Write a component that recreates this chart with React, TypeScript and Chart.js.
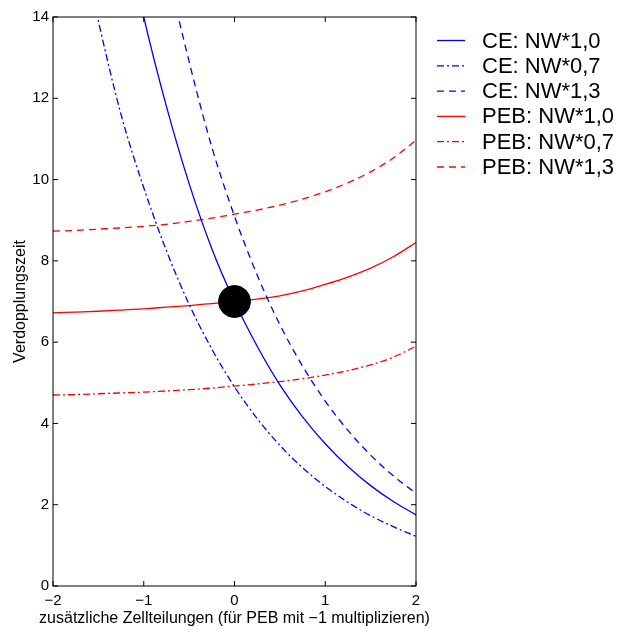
import React, { useEffect, useRef } from "react";
import { Chart, registerables } from "chart.js";

Chart.register(...registerables);

const FONT = "'Liberation Sans', Arial, Helvetica, sans-serif";

// x positions (additional cell divisions)
const xValues = [-2, -1.75, -1.5, -1.25, -1, -0.75, -0.5, -0.25, 0, 0.25, 0.5, 0.75, 1, 1.25, 1.5, 1.75, 2];

// doubling times
const ceNW10 = [28, 23.5, 19.8, 16.6, 14.0, 11.8, 9.9, 8.3, 7.0, 5.9, 4.95, 4.16, 3.5, 2.94, 2.47, 2.08, 1.75];
const ceNW07 = [19.6, 16.5, 13.9, 11.6, 9.8, 8.25, 6.93, 5.83, 4.9, 4.12, 3.46, 2.91, 2.45, 2.06, 1.73, 1.46, 1.22];
const ceNW13 = [36.4, 30.6, 25.7, 21.6, 18.2, 15.3, 12.9, 10.8, 9.1, 7.65, 6.43, 5.41, 4.55, 3.83, 3.22, 2.71, 2.28];
const pebNW10 = [6.72, 6.74, 6.76, 6.79, 6.82, 6.86, 6.9, 6.95, 7.0, 7.06, 7.14, 7.26, 7.42, 7.6, 7.82, 8.1, 8.45];
const pebNW07 = [4.7, 4.71, 4.73, 4.75, 4.77, 4.8, 4.83, 4.87, 4.92, 4.97, 5.03, 5.1, 5.19, 5.3, 5.44, 5.63, 5.9];
const pebNW13 = [8.73, 8.75, 8.78, 8.81, 8.85, 8.9, 8.97, 9.05, 9.15, 9.25, 9.37, 9.52, 9.7, 9.92, 10.19, 10.53, 10.97];

const markerPoint = { x: 0, y: 7 };

const seriesLabels = ["CE: NW*1,0", "CE: NW*0,7", "CE: NW*1,3", "PEB: NW*1,0", "PEB: NW*0,7", "PEB: NW*1,3"];
const xTicks = [-2, -1, 0, 1, 2];
const yTicks = [0, 2, 4, 6, 8, 10, 12, 14];

const xTitle = "zusätzliche Zellteilungen (für PEB mit \u22121 multiplizieren)";
const yTitle = "Verdopplungszeit";

const BLUE = "#0000ff";
const RED = "#ff0000";
const SOLID: number[] = [];
const DASHDOT = [7, 3, 2, 3];
const DASHED = [7, 5];

const fmt = (v: number) => (v < 0 ? "\u2212" + Math.abs(v) : String(v));

export default function App() {
  const ref = useRef<HTMLCanvasElement | null>(null);

  useEffect(() => {
    const canvas = ref.current;
    if (!canvas) return;

    const mk = (vals: number[]) => vals.map((y, i) => ({ x: xValues[i], y }));
    const seriesData = [ceNW10, ceNW07, ceNW13, pebNW10, pebNW07, pebNW13];
    const colors = [BLUE, BLUE, BLUE, RED, RED, RED];
    const dashes = [SOLID, DASHDOT, DASHED, SOLID, DASHDOT, DASHED];

    const lineSets = seriesData.map((vals, i) => ({
      type: "line" as const,
      label: seriesLabels[i],
      data: mk(vals),
      borderColor: colors[i],
      backgroundColor: colors[i],
      borderWidth: 1.3,
      borderDash: dashes[i],
      pointRadius: 0,
      cubicInterpolationMode: "monotone" as const,
      fill: false,
      order: 1,
    }));

    const boxPlugin = {
      id: "matlabBox",
      afterDraw(chart: any) {
        const { ctx, chartArea } = chart;
        const { left, right, top, bottom } = chartArea;
        const xs = chart.scales.x;
        const ys = chart.scales.y;
        ctx.save();
        ctx.strokeStyle = "#000";
        ctx.lineWidth = 1;
        ctx.setLineDash([]);
        ctx.strokeRect(left, top, right - left, bottom - top);
        const tl = 5;
        ctx.beginPath();
        xTicks.forEach((v) => {
          const px = xs.getPixelForValue(v);
          ctx.moveTo(px, bottom);
          ctx.lineTo(px, bottom - tl);
          ctx.moveTo(px, top);
          ctx.lineTo(px, top + tl);
        });
        yTicks.forEach((v) => {
          const py = ys.getPixelForValue(v);
          ctx.moveTo(left, py);
          ctx.lineTo(left + tl, py);
          ctx.moveTo(right, py);
          ctx.lineTo(right - tl, py);
        });
        ctx.stroke();

        // x axis title (may be wider than the plot, so drawn unconstrained)
        ctx.fillStyle = "#000";
        ctx.font = "16px " + FONT;
        ctx.textAlign = "center";
        ctx.textBaseline = "middle";
        ctx.fillText(xTitle, (left + right) / 2, 619);

        // legend
        const lx0 = 437, lx1 = 465, tx = 482, y0 = 40.5, dy = 25.3;
        ctx.font = "22px " + FONT;
        ctx.textBaseline = "middle";
        ctx.textAlign = "left";
        seriesLabels.forEach((lab, i) => {
          const y = y0 + i * dy;
          ctx.beginPath();
          ctx.strokeStyle = colors[i];
          ctx.lineWidth = 1.3;
          ctx.setLineDash(dashes[i]);
          ctx.moveTo(lx0, y);
          ctx.lineTo(lx1, y);
          ctx.stroke();
          ctx.setLineDash([]);
          ctx.fillStyle = "#000";
          ctx.fillText(lab, tx, y + 1);
        });
        ctx.restore();
      },
    };

    const chart = new Chart(canvas, {
      type: "line",
      data: {
        datasets: [
          ...lineSets,
          {
            type: "scatter" as const,
            label: "Referenz",
            data: [markerPoint],
            pointRadius: 16,
            pointHoverRadius: 16,
            backgroundColor: "#000",
            borderColor: "#000",
            showLine: false,
            order: -1,
          } as any,
        ],
      },
      options: {
        responsive: false,
        animation: false,
        events: [],
        layout: { padding: { top: 15, right: 206, left: 0, bottom: 0 } },
        plugins: {
          legend: { display: false },
          tooltip: { enabled: false },
        },
        scales: {
          x: {
            type: "linear",
            min: -2,
            max: 2,
            afterFit: (s: any) => {
              s.height = 47;
            },
            afterBuildTicks: (s: any) => {
              s.ticks = xTicks.map((v) => ({ value: v }));
            },
            grid: { display: false, drawTicks: false },
            border: { display: false },
            ticks: {
              color: "#000",
              font: { family: FONT, size: 15 },
              padding: 6,
              maxRotation: 0,
              callback: (v: any) => fmt(Number(v)),
            },
            title: { display: false },
          },
          y: {
            type: "linear",
            min: 0,
            max: 14,
            afterFit: (s: any) => {
              s.width = 53;
            },
            afterBuildTicks: (s: any) => {
              s.ticks = yTicks.map((v) => ({ value: v }));
            },
            grid: { display: false, drawTicks: false },
            border: { display: false },
            ticks: {
              color: "#000",
              font: { family: FONT, size: 15 },
              padding: 4,
              callback: (v: any) => fmt(Number(v)),
            },
            title: {
              display: true,
              text: yTitle,
              color: "#000",
              font: { family: FONT, size: 16 },
              padding: { top: 11, bottom: 0 },
            },
          },
        },
      },
      plugins: [boxPlugin],
    } as any);

    return () => chart.destroy();
  }, []);

  return (
    <div style={{ position: "absolute", left: 0, top: 0, width: 622, height: 633, background: "#fff" }}>
      <canvas ref={ref} width={622} height={633} style={{ display: "block" }} />
    </div>
  );
}
